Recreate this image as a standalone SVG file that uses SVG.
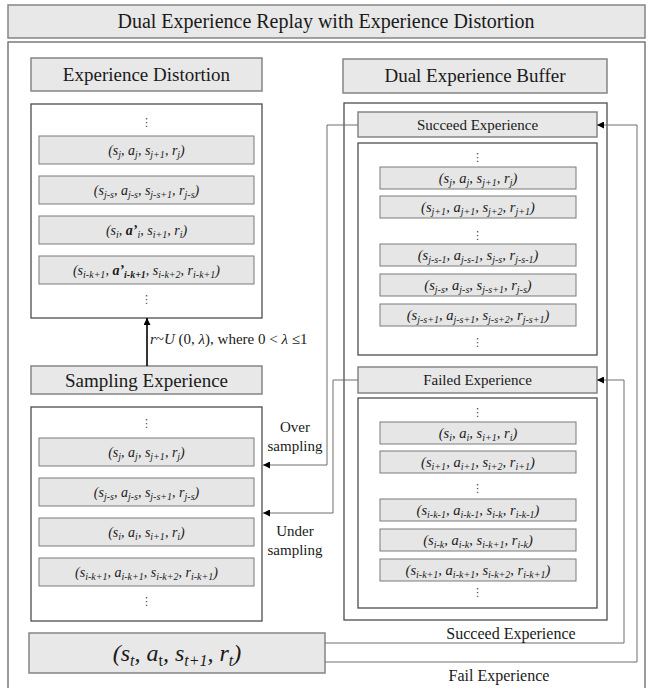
<svg xmlns="http://www.w3.org/2000/svg" width="649" height="688" viewBox="0 0 649 688">
<style>
.t{font-family:"Liberation Serif","Times New Roman",serif;fill:#1a1a1a}
.m{font-style:italic}
.hdr{fill:#e8e8e8;stroke:#858585;stroke-width:1.5}
.box{fill:#fff;stroke:#4d4d4d;stroke-width:1.3}
.row{fill:#e6e6e6;stroke:#7a7a7a;stroke-width:1}
.r{font-size:14px;text-anchor:middle}
.rb{font-size:14.5px;text-anchor:middle}
.s{font-size:10px}
.h{font-size:19px;text-anchor:middle}
.h2{font-size:15px;text-anchor:middle}
.d{font-family:"DejaVu Sans",sans-serif;font-size:11px;text-anchor:middle;fill:#444}
.con{fill:none;stroke:#6e6e6e;stroke-width:1}
</style>
<defs>
<marker id="ah" viewBox="0 0 10 10" refX="10" refY="5" markerWidth="8" markerHeight="7" markerUnits="userSpaceOnUse" orient="auto"><path d="M0,0 L10,5 L0,10 z" fill="#000"/></marker>
</defs>

<g id="title">
<rect x="8" y="5" width="637" height="33" class="hdr"/>
<text class="t" x="326" y="28" font-size="20" text-anchor="middle">Dual Experience Replay with Experience Distortion</text>
</g>
<rect id="frame" x="8" y="42" width="637" height="670" fill="none" stroke="#666" stroke-width="1.3"/>

<g id="distortion-header">
<rect x="31" y="58" width="231" height="33" class="hdr"/>
<text class="t h" x="146.5" y="81">Experience Distortion</text>
</g>
<g id="distortion-list">
<rect x="31" y="104" width="231" height="214" class="box"/>
<text class="d" x="146.5" y="126">⋮</text>
<rect x="39" y="136" width="215" height="28" class="row"/>
<text class="t m r" x="146.5" y="155">(s<tspan class="s" dy="3">j</tspan><tspan dy="-3">, a</tspan><tspan class="s" dy="3">j</tspan><tspan dy="-3">, s</tspan><tspan class="s" dy="3">j+1</tspan><tspan dy="-3">, r</tspan><tspan class="s" dy="3">j</tspan><tspan dy="-3">)</tspan></text>
<rect x="39" y="176" width="215" height="28" class="row"/>
<text class="t m r" x="146.5" y="195">(s<tspan class="s" dy="3">j-s</tspan><tspan dy="-3">, a</tspan><tspan class="s" dy="3">j-s</tspan><tspan dy="-3">, s</tspan><tspan class="s" dy="3">j-s+1</tspan><tspan dy="-3">, r</tspan><tspan class="s" dy="3">j-s</tspan><tspan dy="-3">)</tspan></text>
<rect x="39" y="216" width="215" height="28" class="row"/>
<text class="t m r" x="146.5" y="235">(s<tspan class="s" dy="3">i</tspan><tspan dy="-3">, </tspan><tspan font-weight="bold">a’</tspan><tspan class="s" dy="3">i</tspan><tspan dy="-3">, s</tspan><tspan class="s" dy="3">i+1</tspan><tspan dy="-3">, r</tspan><tspan class="s" dy="3">i</tspan><tspan dy="-3">)</tspan></text>
<rect x="39" y="256" width="215" height="28" class="row"/>
<text class="t m r" x="146.5" y="275">(s<tspan class="s" dy="3">i-k+1</tspan><tspan dy="-3">, </tspan><tspan font-weight="bold">a’</tspan><tspan class="s" dy="3" font-weight="bold">i-k+1</tspan><tspan dy="-3">, s</tspan><tspan class="s" dy="3">i-k+2</tspan><tspan dy="-3">, r</tspan><tspan class="s" dy="3">i-k+1</tspan><tspan dy="-3">)</tspan></text>
<text class="d" x="146.5" y="303">⋮</text>
</g>

<g id="sampling-header">
<rect x="31" y="366" width="231" height="28" class="hdr"/>
<text class="t h" x="146.5" y="387">Sampling Experience</text>
</g>
<g id="sampling-list">
<rect x="31" y="407" width="231" height="214" class="box"/>
<text class="d" x="146.5" y="427">⋮</text>
<rect x="39" y="438" width="215" height="28" class="row"/>
<text class="t m r" x="146.5" y="457">(s<tspan class="s" dy="3">j</tspan><tspan dy="-3">, a</tspan><tspan class="s" dy="3">j</tspan><tspan dy="-3">, s</tspan><tspan class="s" dy="3">j+1</tspan><tspan dy="-3">, r</tspan><tspan class="s" dy="3">j</tspan><tspan dy="-3">)</tspan></text>
<rect x="39" y="478" width="215" height="28" class="row"/>
<text class="t m r" x="146.5" y="497">(s<tspan class="s" dy="3">j-s</tspan><tspan dy="-3">, a</tspan><tspan class="s" dy="3">j-s</tspan><tspan dy="-3">, s</tspan><tspan class="s" dy="3">j-s+1</tspan><tspan dy="-3">, r</tspan><tspan class="s" dy="3">j-s</tspan><tspan dy="-3">)</tspan></text>
<rect x="39" y="518" width="215" height="28" class="row"/>
<text class="t m r" x="146.5" y="537">(s<tspan class="s" dy="3">i</tspan><tspan dy="-3">, a</tspan><tspan class="s" dy="3">i</tspan><tspan dy="-3">, s</tspan><tspan class="s" dy="3">i+1</tspan><tspan dy="-3">, r</tspan><tspan class="s" dy="3">i</tspan><tspan dy="-3">)</tspan></text>
<rect x="39" y="558" width="215" height="28" class="row"/>
<text class="t m r" x="146.5" y="577">(s<tspan class="s" dy="3">i-k+1</tspan><tspan dy="-3">, a</tspan><tspan class="s" dy="3">i-k+1</tspan><tspan dy="-3">, s</tspan><tspan class="s" dy="3">i-k+2</tspan><tspan dy="-3">, r</tspan><tspan class="s" dy="3">i-k+1</tspan><tspan dy="-3">)</tspan></text>
<text class="d" x="146.5" y="605">⋮</text>
</g>

<g id="current-experience">
<rect x="29" y="633" width="296" height="40" class="hdr"/>
<text class="t m" x="177" y="661" font-size="24" text-anchor="middle">(s<tspan font-size="16" dy="5">t</tspan><tspan dy="-5">, a</tspan><tspan font-size="16" dy="5" font-style="normal">t</tspan><tspan dy="-5">, s</tspan><tspan font-size="16" dy="5">t+1</tspan><tspan dy="-5">, r</tspan><tspan font-size="16" dy="5">t</tspan><tspan dy="-5">)</tspan></text>
</g>

<g id="buffer-header">
<rect x="343" y="59" width="264" height="34" class="hdr"/>
<text class="t h" x="475" y="82">Dual Experience Buffer</text>
</g>
<g id="buffer">
<rect x="344" y="103" width="263" height="517" class="box"/>
</g>

<g id="succeed-header">
<rect x="358" y="112" width="239" height="25" class="hdr"/>
<text class="t h2" x="477.5" y="130">Succeed Experience</text>
</g>
<g id="succeed-list">
<rect x="358" y="143" width="239" height="212" class="box"/>
<text class="d" x="477.5" y="161">⋮</text>
<rect x="380" y="167" width="196" height="22" class="row"/>
<text class="t m rb" x="478" y="183">(s<tspan class="s" dy="3">j</tspan><tspan dy="-3">, a</tspan><tspan class="s" dy="3">j</tspan><tspan dy="-3">, s</tspan><tspan class="s" dy="3">j+1</tspan><tspan dy="-3">, r</tspan><tspan class="s" dy="3">j</tspan><tspan dy="-3">)</tspan></text>
<rect x="380" y="196" width="196" height="22" class="row"/>
<text class="t m rb" x="478" y="212">(s<tspan class="s" dy="3">j+1</tspan><tspan dy="-3">, a</tspan><tspan class="s" dy="3">j+1</tspan><tspan dy="-3">, s</tspan><tspan class="s" dy="3">j+2</tspan><tspan dy="-3">, r</tspan><tspan class="s" dy="3">j+1</tspan><tspan dy="-3">)</tspan></text>
<text class="d" x="477.5" y="239">⋮</text>
<rect x="380" y="244" width="196" height="22" class="row"/>
<text class="t m rb" x="478" y="260">(s<tspan class="s" dy="3">j-s-1</tspan><tspan dy="-3">, a</tspan><tspan class="s" dy="3">j-s-1</tspan><tspan dy="-3">, s</tspan><tspan class="s" dy="3">j-s</tspan><tspan dy="-3">, r</tspan><tspan class="s" dy="3">j-s-1</tspan><tspan dy="-3">)</tspan></text>
<rect x="380" y="274" width="196" height="22" class="row"/>
<text class="t m rb" x="478" y="290">(s<tspan class="s" dy="3">j-s</tspan><tspan dy="-3">, a</tspan><tspan class="s" dy="3">j-s</tspan><tspan dy="-3">, s</tspan><tspan class="s" dy="3">j-s+1</tspan><tspan dy="-3">, r</tspan><tspan class="s" dy="3">j-s</tspan><tspan dy="-3">)</tspan></text>
<rect x="380" y="304" width="196" height="22" class="row"/>
<text class="t m rb" x="478" y="320">(s<tspan class="s" dy="3">j-s+1</tspan><tspan dy="-3">, a</tspan><tspan class="s" dy="3">j-s+1</tspan><tspan dy="-3">, s</tspan><tspan class="s" dy="3">j-s+2</tspan><tspan dy="-3">, r</tspan><tspan class="s" dy="3">j-s+1</tspan><tspan dy="-3">)</tspan></text>
<text class="d" x="477.5" y="346">⋮</text>
</g>

<g id="failed-header">
<rect x="358" y="367" width="239" height="26" class="hdr"/>
<text class="t h2" x="477.5" y="385">Failed Experience</text>
</g>
<g id="failed-list">
<rect x="358" y="398" width="239" height="210" class="box"/>
<text class="d" x="477.5" y="416">⋮</text>
<rect x="380" y="422" width="196" height="22" class="row"/>
<text class="t m rb" x="478" y="438">(s<tspan class="s" dy="3">i</tspan><tspan dy="-3">, a</tspan><tspan class="s" dy="3">i</tspan><tspan dy="-3">, s</tspan><tspan class="s" dy="3">i+1</tspan><tspan dy="-3">, r</tspan><tspan class="s" dy="3">i</tspan><tspan dy="-3">)</tspan></text>
<rect x="380" y="451" width="196" height="22" class="row"/>
<text class="t m rb" x="478" y="467">(s<tspan class="s" dy="3">i+1</tspan><tspan dy="-3">, a</tspan><tspan class="s" dy="3">i+1</tspan><tspan dy="-3">, s</tspan><tspan class="s" dy="3">i+2</tspan><tspan dy="-3">, r</tspan><tspan class="s" dy="3">i+1</tspan><tspan dy="-3">)</tspan></text>
<text class="d" x="477.5" y="492">⋮</text>
<rect x="380" y="499" width="196" height="22" class="row"/>
<text class="t m rb" x="478" y="515">(s<tspan class="s" dy="3">i-k-1</tspan><tspan dy="-3">, a</tspan><tspan class="s" dy="3">i-k-1</tspan><tspan dy="-3">, s</tspan><tspan class="s" dy="3">i-k</tspan><tspan dy="-3">, r</tspan><tspan class="s" dy="3">i-k-1</tspan><tspan dy="-3">)</tspan></text>
<rect x="380" y="529" width="196" height="22" class="row"/>
<text class="t m rb" x="478" y="545">(s<tspan class="s" dy="3">i-k</tspan><tspan dy="-3">, a</tspan><tspan class="s" dy="3">i-k</tspan><tspan dy="-3">, s</tspan><tspan class="s" dy="3">i-k+1</tspan><tspan dy="-3">, r</tspan><tspan class="s" dy="3">i-k</tspan><tspan dy="-3">)</tspan></text>
<rect x="380" y="559" width="196" height="22" class="row"/>
<text class="t m rb" x="478" y="575">(s<tspan class="s" dy="3">i-k+1</tspan><tspan dy="-3">, a</tspan><tspan class="s" dy="3">i-k+1</tspan><tspan dy="-3">, s</tspan><tspan class="s" dy="3">i-k+2</tspan><tspan dy="-3">, r</tspan><tspan class="s" dy="3">i-k+1</tspan><tspan dy="-3">)</tspan></text>
<text class="d" x="477.5" y="596">⋮</text>
</g>

<g id="connectors">
<line x1="147" y1="366" x2="147" y2="318" stroke="#000" stroke-width="1.6" marker-end="url(#ah)"/>
<path class="con" d="M358,125 H327 V465 H263" marker-end="url(#ah)"/>
<path class="con" d="M358,380 H333 V513 H263" marker-end="url(#ah)"/>
<path class="con" d="M325,662 H637 V125 H597" marker-end="url(#ah)"/>
<path class="con" d="M325,643 H624 V380 H597" marker-end="url(#ah)"/>
<text class="t" x="150" y="344" font-size="15"><tspan font-style="italic">r</tspan>~<tspan font-style="italic">U</tspan> (0, <tspan font-style="italic">λ</tspan>), where 0 &lt; <tspan font-style="italic">λ</tspan> ≤1</text>
<text class="t" x="295" y="432" font-size="15" text-anchor="middle">Over</text>
<text class="t" x="295" y="451" font-size="15" text-anchor="middle">sampling</text>
<text class="t" x="295" y="536" font-size="15" text-anchor="middle">Under</text>
<text class="t" x="295" y="555" font-size="15" text-anchor="middle">sampling</text>
<text class="t" x="511" y="639" font-size="16" text-anchor="middle">Succeed Experience</text>
<text class="t" x="499" y="681" font-size="16" text-anchor="middle">Fail Experience</text>
</g>
</svg>
